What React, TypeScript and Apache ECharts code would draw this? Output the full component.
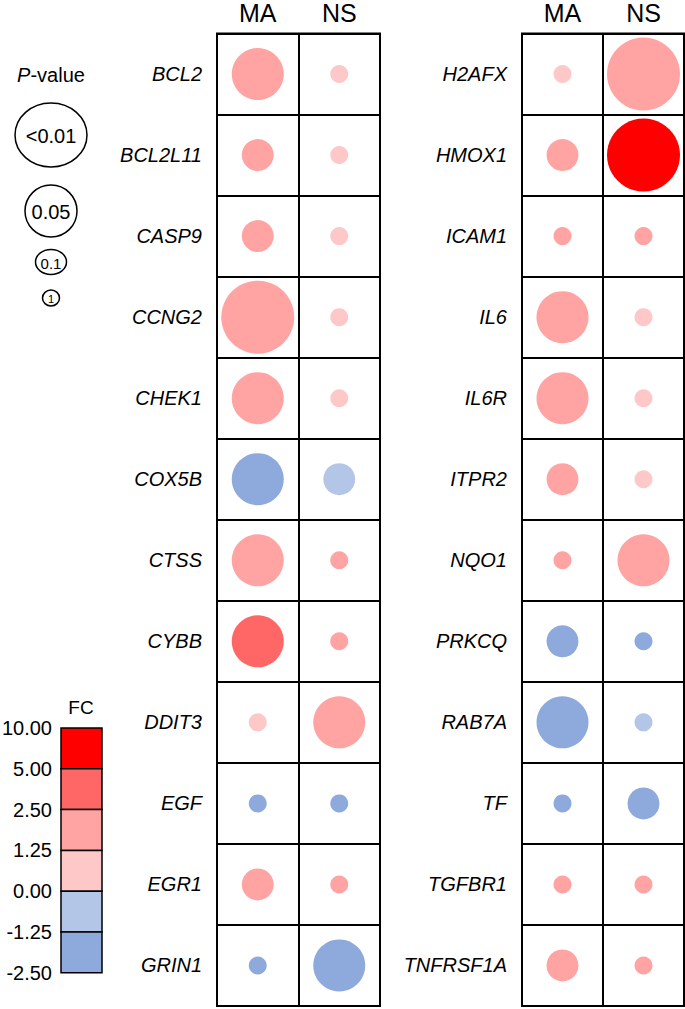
import React, { useEffect, useRef } from "react";
import * as echarts from "echarts";

const columns = ["MA", "NS"];

const genesLeft = ["BCL2", "BCL2L11", "CASP9", "CCNG2", "CHEK1", "COX5B", "CTSS", "CYBB", "DDIT3", "EGF", "EGR1", "GRIN1"];
const maFcLeft = [1.9, 1.7, 1.6, 2.1, 1.8, -1.6, 1.9, 3.2, 0.8, -1.5, 1.7, -1.4];
const nsFcLeft = [0.6, 0.5, 0.7, 0.6, 0.5, -0.8, 1.4, 1.5, 1.6, -1.7, 1.4, -1.9];
const maPLeft = [0.03, 0.08, 0.07, 0.004, 0.02, 0.03, 0.04, 0.02, 0.6, 0.5, 0.09, 0.7];
const nsPLeft = [0.5, 0.6, 0.4, 0.7, 0.8, 0.08, 0.5, 0.4, 0.03, 0.6, 0.5, 0.02];

const genesRight = ["H2AFX", "HMOX1", "ICAM1", "IL6", "IL6R", "ITPR2", "NQO1", "PRKCQ", "RAB7A", "TF", "TGFBR1", "TNFRSF1A"];
const maFcRight = [0.7, 1.6, 1.4, 1.8, 1.9, 1.5, 1.3, -1.6, -1.8, -1.5, 1.4, 1.6];
const nsFcRight = [2.2, 7.5, 1.5, 0.6, 0.5, 0.4, 2.0, -1.4, -0.9, -1.7, 1.3, 1.4];
const maPRight = [0.5, 0.07, 0.4, 0.03, 0.02, 0.08, 0.6, 0.09, 0.02, 0.5, 0.6, 0.09];
const nsPRight = [0.003, 0.002, 0.5, 0.6, 0.7, 0.4, 0.04, 0.5, 0.7, 0.06, 0.4, 0.5];

// FC colour bins (top to bottom)
const fcBreaks = [10, 5, 2.5, 1.25, 0, -1.25, -2.5];
const fcBreakLabels = ["10.00", "5.00", "2.50", "1.25", "0.00", "-1.25", "-2.50"];
const fcColors = ["#FF0000", "#FF6666", "#FFA3A3", "#FFC8C8", "#B4C6E7", "#8EA9DB"];

// P-value legend classes
const pLegendLabels = ["<0.01", "0.05", "0.1", "1"];
const pThresholds = [0.01, 0.05, 0.1, 1];
const pSizes = [73, 52, 32, 18];

const FONT = "'Liberation Sans', Arial, sans-serif";

function colorOf(fc: number): string {
  for (let i = 0; i < fcColors.length; i++) {
    if (fc <= fcBreaks[i] && fc > fcBreaks[i + 1]) return fcColors[i];
  }
  return fc > 0 ? fcColors[0] : fcColors[fcColors.length - 1];
}

function sizeOf(p: number): number {
  if (p < pThresholds[0]) return pSizes[0];
  for (let i = 1; i < pThresholds.length; i++) {
    if (p <= pThresholds[i]) return pSizes[i];
  }
  return pSizes[pSizes.length - 1];
}

function buildData(ma: number[], ns: number[], pMa: number[], pNs: number[]) {
  const out: any[] = [];
  ma.forEach((fc, i) => out.push({ value: [0, i, fc, pMa[i]] }));
  ns.forEach((fc, i) => out.push({ value: [1, i, fc, pNs[i]] }));
  return out;
}

export default function App() {
  const ref = useRef<HTMLDivElement>(null);
  useEffect(() => {
    if (!ref.current) return;
    const chart = echarts.init(ref.current, undefined, { renderer: "svg" });

    const gridCommon = {
      top: 32,
      height: 974,
      show: true,
      borderColor: "#000",
      borderWidth: 2,
      backgroundColor: "transparent",
    };
    const xAxisCommon = (gi: number) => ({
      type: "category",
      gridIndex: gi,
      data: columns,
      position: "top",
      boundaryGap: true,
      axisLine: { show: false },
      axisTick: { show: false },
      axisLabel: { color: "#000", fontSize: 25, lineHeight: 20, fontFamily: FONT, margin: 11 },
      splitLine: { show: true, interval: 0, lineStyle: { color: "#000", width: 2 } },
    });
    const yAxisCommon = (gi: number, genes: string[]) => ({
      type: "category",
      gridIndex: gi,
      data: genes,
      inverse: true,
      boundaryGap: true,
      axisLine: { show: false },
      axisTick: { show: false },
      axisLabel: {
        color: "#000",
        fontSize: 20,
        fontStyle: "italic",
        fontFamily: FONT,
        margin: 15,
        interval: 0,
      },
      splitLine: { show: true, interval: 0, lineStyle: { color: "#000", width: 2 } },
    });

    const seriesCommon = {
      type: "scatter",
      symbol: "circle",
      symbolSize: (v: number[]) => sizeOf(v[3]),
      itemStyle: {
        color: (p: any) => colorOf(p.value[2]),
        opacity: 1,
      },
      emphasis: { disabled: true },
      silent: true,
    };

    // Legend graphics
    const graphics: any[] = [];
    graphics.push({
      type: "text",
      x: 51,
      y: 75,
      style: {
        text: "{i|P}-value",
        rich: { i: { fontStyle: "italic", fontSize: 20, fontFamily: FONT, fill: "#000" } },
        fontSize: 20,
        fontFamily: FONT,
        fill: "#000",
        align: "center",
        verticalAlign: "middle",
      },
    });
    const pLegendPos = [
      { cy: 135, rx: 36, ry: 32, fs: 20 },
      { cy: 211, rx: 26, ry: 26, fs: 20 },
      { cy: 262, rx: 15.5, ry: 12.5, fs: 15 },
      { cy: 298, rx: 8.5, ry: 8, fs: 11 },
    ];
    pLegendLabels.forEach((lab, i) => {
      const pp = pLegendPos[i];
      graphics.push({
        type: "ellipse",
        shape: { cx: 51, cy: pp.cy, rx: pp.rx, ry: pp.ry },
        style: { fill: "none", stroke: "#000", lineWidth: 1.5 },
      });
      graphics.push({
        type: "text",
        x: 51,
        y: pp.cy + 1,
        style: {
          text: lab,
          fontSize: pp.fs,
          fontFamily: FONT,
          fill: "#000",
          align: "center",
          verticalAlign: "middle",
        },
      });
    });

    // FC legend
    const fcTop = 728;
    const boxH = 40.8;
    graphics.push({
      type: "text",
      x: 81,
      y: 707,
      style: { text: "FC", fontSize: 19, fontFamily: FONT, fill: "#000", align: "center", verticalAlign: "middle" },
    });
    fcColors.forEach((c, i) => {
      graphics.push({
        type: "rect",
        shape: { x: 61, y: fcTop + i * boxH, width: 41, height: boxH },
        style: { fill: c, stroke: "#000", lineWidth: 1.5 },
      });
    });
    fcBreakLabels.forEach((lab, i) => {
      graphics.push({
        type: "text",
        x: 52,
        y: fcTop + i * boxH,
        style: { text: lab, fontSize: 20, fontFamily: FONT, fill: "#000", align: "right", verticalAlign: "middle" },
      });
    });

    chart.setOption({
      animation: false,
      backgroundColor: "#fff",
      grid: [
        { ...gridCommon, left: 217, width: 163 },
        { ...gridCommon, left: 522, width: 162 },
      ],
      xAxis: [xAxisCommon(0), xAxisCommon(1)],
      yAxis: [yAxisCommon(0, genesLeft), yAxisCommon(1, genesRight)],
      series: [
        { ...seriesCommon, xAxisIndex: 0, yAxisIndex: 0, data: buildData(maFcLeft, nsFcLeft, maPLeft, nsPLeft) },
        { ...seriesCommon, xAxisIndex: 1, yAxisIndex: 1, data: buildData(maFcRight, nsFcRight, maPRight, nsPRight) },
      ],
      graphic: graphics,
    });

    return () => chart.dispose();
  }, []);

  return (
    <div
      ref={ref}
      style={{ position: "absolute", left: 0, top: 0, width: 685, height: 1009 }}
    />
  );
}
